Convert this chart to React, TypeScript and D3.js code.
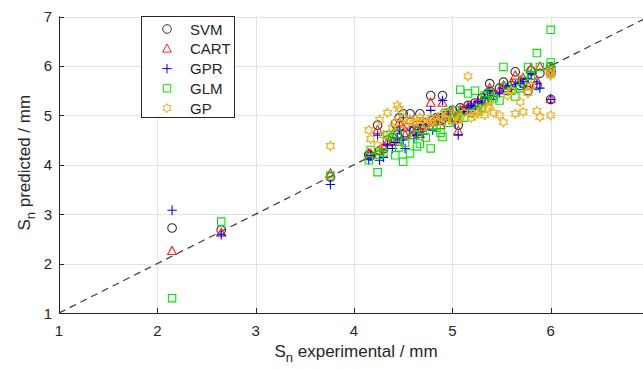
import { useEffect, useRef } from 'react'
import * as d3 from 'd3'

// Experimental S_n (mm) per sample; one predicted value per model (null = not shown)
const EXPERIMENTAL = [
  2.15, 2.65, 3.76, 4.15, 4.17, 4.24, 4.26, 4.3, 4.34, 4.39,
  4.42, 4.44, 4.46, 4.5, 4.52, 4.57, 4.61, 4.64, 4.67, 4.7,
  4.73, 4.78, 4.8, 4.84, 4.88, 4.9, 4.93, 4.96, 5.0, 5.03,
  5.06, 5.08, 5.12, 5.16, 5.19, 5.23, 5.26, 5.3, 5.33, 5.36,
  5.38, 5.42, 5.48, 5.52, 5.56, 5.6, 5.64, 5.69, 5.72, 5.77,
  5.8, 5.86, 5.89, 6.0, 6.0, 6.0, 6.0,
]

const SVM = [
  2.72, 2.68, 3.75, 4.2, 4.18, 4.8, 4.28, 4.32, 4.5, 4.55,
  4.83, 4.6, 4.95, 5.03, 4.65, 5.03, 4.7, 4.8, 5.03, 4.75,
  4.85, 5.4, 4.9, 4.95, 4.9, 5.4, 5.0, 5.05, 5.1, 4.95,
  4.8, 5.15, 5.1, 5.2, 5.15, 5.25, 5.2, 5.35, 5.28, 5.45,
  5.64, 5.4, 5.55, 5.67, 5.5, 5.6, 5.88, 5.6, 5.65, 5.5,
  5.9, 5.6, 5.85, 5.98, 5.9, 5.32, 5.85,
]

const CART = [
  2.25, 2.62, 3.82, 4.23, 4.22, 4.7, 4.29, 4.35, 4.45, 4.46,
  4.7, 4.46, 4.85, 4.75, 4.6, 4.9, 4.65, 4.72, 4.62, 4.8,
  4.78, 5.25, 4.85, 4.92, 4.8, 5.25, 4.95, 5.0, 5.05, 4.95,
  4.68, 5.1, 5.12, 5.18, 5.1, 5.22, 5.25, 5.3, 5.32, 5.4,
  5.55, 5.45, 5.5, 5.6, 5.55, 5.65, 5.8, 5.7, 5.75, 5.6,
  5.95, 5.7, 5.98, 5.95, 5.92, 5.33, 5.88,
]

const GPR = [
  3.08, 2.58, 3.6, 4.1, 4.18, 4.6, 4.09, 4.15, 4.4, 4.33,
  4.45, 4.55, 4.7, 4.5, 4.33, 4.75, 4.53, 4.6, 4.82, 4.62,
  4.85, 5.1, 4.7, 4.82, 4.95, 5.3, 4.9, 5.02, 4.98, 4.85,
  4.6, 5.05, 5.08, 5.15, 5.2, 5.18, 5.28, 5.25, 5.35, 5.38,
  5.5, 5.42, 5.45, 5.55, 5.6, 5.58, 5.62, 5.65, 5.68, 5.75,
  5.85, 5.65, 5.55, 5.9, 5.88, 5.32, 5.95,
]

const GLM = [
  1.3, 2.85, 3.78, 4.09, 4.3, 3.85, 4.2, 4.25, 4.6, 4.55,
  4.19, 4.63, 4.35, 4.06, 4.45, 4.23, 4.6, 4.37, 4.43, 4.7,
  4.55, 4.33, 4.8, 4.75, 4.65, 4.56, 5.05, 4.85, 4.9, 5.1,
  5.0, 5.52, 4.95, 5.44, 5.05, 5.5, 5.1, 5.15, 5.4, 5.3,
  5.45, 5.35, 5.3, 5.98, 5.6, 5.5, 5.38, 5.55, 5.7, 5.98,
  5.8, 6.26, 5.98, 6.07, 6.73, 5.98, 5.9,
]

const GP = [
  null, null, 4.38, 4.7, 4.52, 4.4, 4.91, 4.6, 5.05, 4.75,
  4.85, 5.2, 5.13, 4.95, 4.8, 4.9, 4.85, 4.88, 4.95, 4.9,
  4.8, 4.95, 4.88, 4.85, 5.0, 4.95, 4.92, 5.05, 4.9, 5.0,
  4.9, 4.95, 5.05, 5.79, 4.95, 5.0, 5.05, 5.1, 5.0, 5.15,
  5.2, 5.05, 5.0, 4.86, 5.4, 5.5, 5.03, 5.27, 5.07, 5.45,
  5.6, 5.09, 4.97, 5.81, 5.85, 5.0, 5.9,
]

const MODELS = ['SVM', 'CART', 'GPR', 'GLM', 'GP']
const X_TICKS = [1, 2, 3, 4, 5, 6, 7]
const X_TICK_LABELS = ['1', '2', '3', '4', '5', '6', '']
const Y_TICKS = [1, 2, 3, 4, 5, 6, 7]

const COLORS: Record<string, string> = {
  SVM: '#353535',
  CART: '#ff2020',
  GPR: '#0000ff',
  GLM: '#00e600',
  GP: '#edb120',
}

const FONT = '"Liberation Sans", Arial, Helvetica, sans-serif'
const INK = '#262626'

// hexagram outline (12 vertices), MATLAB 'h' marker
function hexagram(r: number): string {
  const pts: [number, number][] = []
  for (let i = 0; i < 12; i++) {
    const rad = i % 2 === 0 ? r : r / Math.sqrt(3)
    const a = -Math.PI / 2 + (i * Math.PI) / 6
    pts.push([rad * Math.cos(a), rad * Math.sin(a)])
  }
  return 'M' + pts.map((p) => p.join(',')).join('L') + 'Z'
}

function markerPath(model: string): string {
  switch (model) {
    case 'SVM':
      return 'M4.3,0A4.3,4.3 0 1,1 -4.3,0A4.3,4.3 0 1,1 4.3,0Z'
    case 'CART':
      return 'M0,-4.8L4.4,3.3L-4.4,3.3Z'
    case 'GPR':
      return 'M-4.7,0L4.7,0M0,-4.7L0,4.7'
    case 'GLM':
      return 'M-3.7,-3.7L3.7,-3.7L3.7,3.7L-3.7,3.7Z'
    default:
      return hexagram(4.6)
  }
}

export default function App() {
  const svgRef = useRef<SVGSVGElement>(null)

  useEffect(() => {
    document.body.style.margin = '0'
    if (!svgRef.current) return
    const width = 643
    const height = 369

    const x = d3.scaleLinear().domain([1, 7]).range([59, 649])
    const y = d3.scaleLinear().domain([1, 7]).range([313, 16.5])

    const svg = d3.select(svgRef.current)
    svg.selectAll('*').remove()
    svg.attr('width', width).attr('height', height)

    svg.append('rect').attr('width', width).attr('height', height).attr('fill', '#fff')

    // ---- grid ----
    const grid = svg.append('g').attr('stroke', '#e3e3e3').attr('stroke-width', 1)
    X_TICKS.slice(1).forEach((t) => {
      grid.append('line')
        .attr('x1', Math.round(x(t)) + 0.5).attr('x2', Math.round(x(t)) + 0.5)
        .attr('y1', y(7)).attr('y2', y(1))
    })
    Y_TICKS.slice(1).forEach((t) => {
      grid.append('line')
        .attr('x1', x(1)).attr('x2', width)
        .attr('y1', Math.round(y(t)) + 0.5).attr('y2', Math.round(y(t)) + 0.5)
    })

    // ---- 1:1 line ----
    svg.append('line')
      .attr('x1', x(1)).attr('y1', y(1))
      .attr('x2', x(7)).attr('y2', y(7))
      .attr('stroke', '#383838')
      .attr('stroke-width', 1.2)
      .attr('stroke-dasharray', '7,5')

    // ---- points ----
    const series: Record<string, (number | null)[]> = { SVM, CART, GPR, GLM, GP }
    MODELS.forEach((m) => {
      const pts = EXPERIMENTAL.map((e, i) => ({ e, p: series[m][i] })).filter(
        (d): d is { e: number; p: number } => d.p != null,
      )
      svg.append('g')
        .selectAll('path')
        .data(pts)
        .join('path')
        .attr('transform', (d) => `translate(${x(d.e)},${y(d.p)})`)
        .attr('d', markerPath(m))
        .attr('fill', 'none')
        .attr('stroke', COLORS[m])
        .attr('stroke-width', 1.1)
    })

    // ---- axes ----
    const ax = svg.append('g').attr('stroke', INK).attr('stroke-width', 1)
    ax.append('line').attr('x1', x(1)).attr('x2', width).attr('y1', 313.5).attr('y2', 313.5)
    ax.append('line').attr('x1', 59.5).attr('x2', 59.5).attr('y1', y(7)).attr('y2', 313.5)
    X_TICKS.forEach((t) => {
      ax.append('line')
        .attr('x1', Math.round(x(t)) + 0.5).attr('x2', Math.round(x(t)) + 0.5)
        .attr('y1', 313).attr('y2', 308)
    })
    Y_TICKS.forEach((t) => {
      ax.append('line')
        .attr('x1', 59).attr('x2', 64)
        .attr('y1', Math.round(y(t)) + 0.5).attr('y2', Math.round(y(t)) + 0.5)
    })

    const tickText = svg.append('g')
      .attr('font-family', FONT)
      .attr('font-size', 15)
      .attr('fill', INK)
    X_TICKS.forEach((t, i) => {
      if (!X_TICK_LABELS[i]) return
      tickText.append('text')
        .attr('x', x(t)).attr('y', 336)
        .attr('text-anchor', 'middle')
        .text(X_TICK_LABELS[i])
    })
    Y_TICKS.forEach((t) => {
      tickText.append('text')
        .attr('x', 52).attr('y', y(t) + 5.5)
        .attr('text-anchor', 'end')
        .text(String(t))
    })

    // ---- axis labels ----
    const xl = svg.append('text')
      .attr('x', 356).attr('y', 357)
      .attr('text-anchor', 'middle')
      .attr('font-family', FONT)
      .attr('font-size', 17)
      .attr('fill', INK)
    xl.append('tspan').text('S')
    xl.append('tspan').attr('dy', 5).attr('font-size', 13).text('n')
    xl.append('tspan').attr('dy', -5).text(' experimental / mm')

    const yl = svg.append('text')
      .attr('transform', `translate(30,${(y(7) + y(1)) / 2 - 2}) rotate(-90)`)
      .attr('text-anchor', 'middle')
      .attr('font-family', FONT)
      .attr('font-size', 17)
      .attr('fill', INK)
    yl.append('tspan').text('S')
    yl.append('tspan').attr('dy', 5).attr('font-size', 13).text('n')
    yl.append('tspan').attr('dy', -5).text(' predicted / mm')

    // ---- legend ----
    const lg = svg.append('g')
    lg.append('rect')
      .attr('x', 141.5).attr('y', 16.5)
      .attr('width', 93).attr('height', 101)
      .attr('fill', '#fff')
      .attr('stroke', INK)
      .attr('stroke-width', 1)
    MODELS.forEach((m, i) => {
      const cy = 29 + i * 19.8
      lg.append('path')
        .attr('transform', `translate(167,${cy})`)
        .attr('d', markerPath(m))
        .attr('fill', 'none')
        .attr('stroke', COLORS[m])
      lg.append('text')
        .attr('x', 190).attr('y', cy + 5.5)
        .attr('font-family', FONT)
        .attr('font-size', 15)
        .attr('fill', INK)
        .text(m)
    })
  }, [])

  return <svg ref={svgRef} style={{ display: 'block' }} />
}
